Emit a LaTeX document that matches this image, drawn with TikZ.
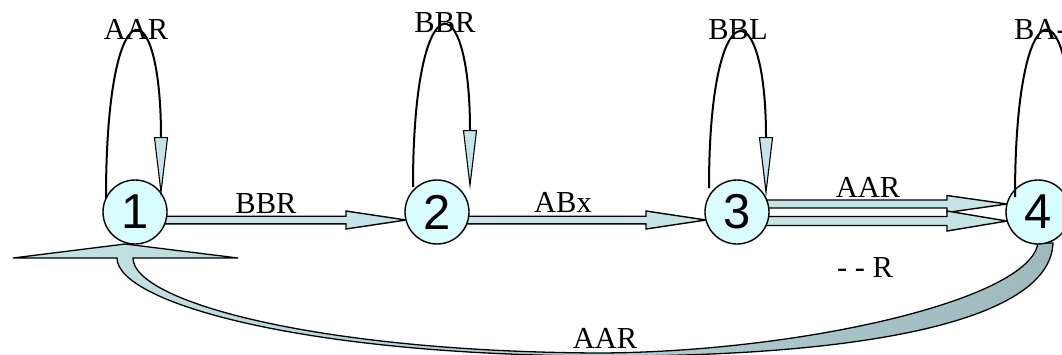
\documentclass[tikz,border=0pt]{standalone}
\usepackage{fontspec}
\setmainfont{Liberation Serif}
\newfontfamily\digitfont{Liberation Sans}
\usetikzlibrary{calc,arrows.meta}
\definecolor{nodefill}{RGB}{217,252,252}
\definecolor{arrowfill}{RGB}{196,228,232}
\definecolor{arrowdark}{RGB}{158,186,190}
\pgfdeclarelayer{bg}
\pgfsetlayers{bg,main}
\tikzset{
  statenode/.style={circle, draw, line width=1.4pt, fill=nodefill, minimum size=64pt, inner sep=0pt,
    font=\digitfont\fontsize{49}{49}\selectfont},
  lbl/.style={font=\fontsize{30.5}{30.5}\selectfont, inner sep=0pt, anchor=base},
  loopline/.style={draw, line width=2pt,
    -{Triangle[length=60pt,width=14pt,fill=arrowfill,line width=1.1pt]}},
  barrow/.style={draw, line width=1.4pt, fill=arrowfill, line join=miter},
  curvarrow/.style={draw, line width=1.3pt, left color=arrowfill, right color=arrowdark},
}
\newcommand\blockarrow[4]{%
  \filldraw[barrow] ($(#1)+(0,#3)$) -- ($(#2)+(-60,#3)$) -- ($(#2)+(-60,#4)$) -- (#2)
    -- ($(#2)+(-60,-#4)$) -- ($(#2)+(-60,-#3)$) -- ($(#1)+(0,-#3)$) -- cycle;}
\begin{document}
\begin{tikzpicture}[x=1pt,y=-1pt]
\useasboundingbox (0,0) rectangle (1062,354);
\clip (0,0) rectangle (1062,354);
% states
\node[statenode] (n1) at (135,212) {1};
\node[statenode] (n2) at (437,212) {2};
\node[statenode] (n3) at (737,212) {3};
\node[statenode] (n4) at (1038,212) {4};
% helper coordinates
\coordinate (s12) at ($(n1)+(20,8)$);
\coordinate (t12) at ($(n2)+(-31,8)$);
\coordinate (s23) at ($(n2)+(20,8)$);
\coordinate (t23) at ($(n3)+(-31,8)$);
\coordinate (s34a) at ($(n3)+(20,-8)$);
\coordinate (t34a) at ($(n4)+(-31,-8)$);
\coordinate (s34b) at ($(n3)+(20,9)$);
\coordinate (t34b) at ($(n4)+(-31,9)$);
\coordinate (h1) at ($(n1)+(-10,32)$);
\coordinate (c4i) at ($(n4)+(0,31)$);
\coordinate (c4o) at ($(n4)+(15,31)$);
\begin{pgfonlayer}{bg}
  \clip (0,0) rectangle (1062,354);
  \blockarrow{s12}{t12}{3.8}{9}
  \blockarrow{s23}{t23}{3.8}{9}
  \blockarrow{s34a}{t34a}{4}{8.5}
  \blockarrow{s34b}{t34b}{4.5}{10}
  \shadedraw[curvarrow] (h1) -- ++(113,14) -- ++(-105,0)
    .. controls (133,302) and (320,352) .. (600,353)
    .. controls (800,352) and (1030,300) .. (c4i) -- (c4o)
    .. controls (1050,324) and (850,357) .. (600,356)
    .. controls (300,355) and (117,302) .. (117,258)
    -- (13,258) -- cycle;
\end{pgfonlayer}
% self loops
\coordinate (a1) at ($(n1)+(-29,-14)$);
\coordinate (b1) at ($(n1)+(26,-15)$);
\coordinate (a2) at ($(n2)+(-24,-25)$);
\coordinate (b2) at ($(n2)+(33,-22)$);
\coordinate (a3) at ($(n3)+(-28,-24)$);
\coordinate (b3) at ($(n3)+(29,-15)$);
\coordinate (a4) at ($(n4)+(-23,-15)$);
\coordinate (b4) at ($(n4)+(33,-15)$);
\draw[loopline] (a1) .. controls +(0,-213) and +(0,-212) .. (b1);
\draw[loopline] (a2) .. controls +(0,-207) and +(0,-210) .. (b2);
\draw[loopline] (a3) .. controls +(0,-200) and +(0,-209) .. (b3);
\draw[loopline] (a4) .. controls +(0,-212) and +(0,-212) .. (b4);
% labels
\node[lbl] (l1) at (136,39) {AAR};
\node[lbl] (l2) at (445,32) {BBR};
\node[lbl] (l3) at (738,39) {BBL};
\node[lbl, anchor=base west] (l4) at (1014,39) {BA-};
\node[lbl] (e12) at (266,213) {BBR};
\node[lbl] (e23) at (563,212) {ABx};
\node[lbl] (e34a) at (868,197) {AAR};
\node[lbl] (e34b) at (865,277) {- - R};
\node[lbl] (e41) at (605,348) {AAR};
\end{tikzpicture}
\end{document}
